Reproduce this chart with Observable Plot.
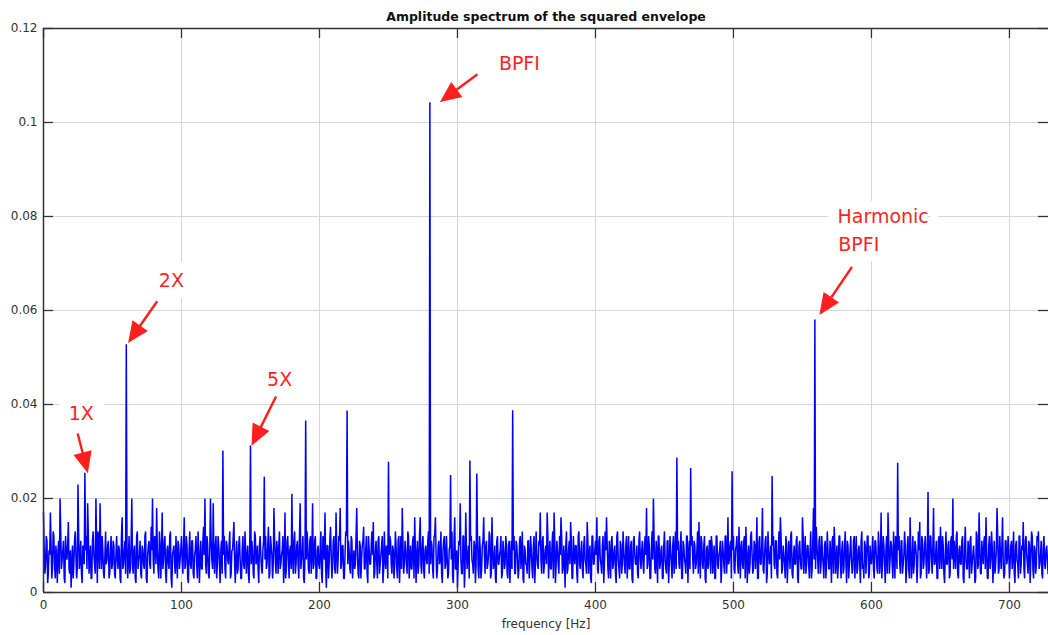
<!DOCTYPE html>
<html><head><meta charset="utf-8">
<script src="https://cdn.jsdelivr.net/npm/d3@7"></script>
<script src="https://cdn.jsdelivr.net/npm/@observablehq/plot@0.6"></script>
<style>html,body{margin:0;padding:0;background:#fff}svg{display:block}</style>
</head><body><div id="chart"></div>
<script>
// ---- text ----
const title = "Amplitude spectrum of the squared envelope";
const xLabel = "frequency [Hz]";

// ---- axes ----
const xTicks = [0, 100, 200, 300, 400, 500, 600, 700];
const yTicks = [0, 0.02, 0.04, 0.06, 0.08, 0.1, 0.12];
const yTickLabels = ["0", "0.02", "0.04", "0.06", "0.08", "0.1", "0.12"];
const xMax = 728.3;
const yMax = 0.12;

// ---- spectrum noise floor (values in units of 0.001) ----
const noiseUnit = 0.001;
// samples at whole Hz (0 ... 728)
const noise000 = [17,4,12,2,9,17,3,13,6,10, 2,11,20,5,9,3,12,7,15,4, 1,10,6,13,3,23,5,11,2,9, 7,12,19,4,10,3,13,6,20,2, 11,19,5,9,3,13,7,11,4,12, 6,10,3,12,5,9,2,16,6,11, 8,3,12,5,20,4,10,2,13,7, 11,3,9,5,13,2,10,6,14,20, 4,11,18,5,13,3,17,7,12,2, 10,5,13,1,9,6,12,3,10,7];
const noise100 = [12,4,16,6,10,2,13,5,11,3, 9,6,13,2,11,5,14,20,4,10, 3,20,7,19,4,12,6,10,2,11, 5,12,3,10,6,13,4,9,15,2, 11,5,12,3,9,6,13,4,10,2, 7,11,4,13,6,10,2,12,5,9, 3,12,6,14,4,10,3,18,7,11, 4,13,6,9,2,17,5,12,3,10, 21,4,13,6,11,3,19,7,12,2, 1,13,5,11,4,19,6,12,3,10];
const noise200 = [5,13,2,11,17,1,10,6,14,3, 11,5,17,4,12,18,6,10,3,13, 2,11,5,12,3,9,6,18,4,11, 3,10,14,5,12,2,9,6,13,15, 4,11,3,12,6,10,2,13,5,9, 4,12,6,10,3,13,5,11,2,12, 18,4,11,6,13,3,10,5,12,16, 2,11,6,16,4,12,3,10,6,13, 4,11,5,12,16,3,10,6,13,2, 11,5,12,3,9,6,13,2,16,5];
const noise300 = [1,11,19,4,12,1,17,5,10,3, 12,6,11,2,9,5,12,3,10,16, 4,11,6,13,3,16,5,10,2,12, 6,9,3,11,5,12,4,10,2,11, 6,12,4,10,3,11,5,13,2,9, 6,11,3,12,5,10,2,13,6,11, 17,4,12,6,10,17,3,11,5,13, 17,2,11,6,12,16,4,10,1,13, 5,11,15,3,12,6,10,2,13,5, 11,3,12,6,15,4,10,2,12,6];
const noise400 = [11,16,4,12,6,10,2,13,16,5, 11,3,12,6,10,2,13,5,11,4, 13,6,10,3,12,5,11,2,12,6, 10,3,13,5,11,4,12,18,6,10, 3,13,20,5,11,2,12,6,10,3, 13,5,11,2,12,6,10,4,13,1, 11,5,13,3,10,6,12,2,11,5, 12,4,10,6,13,15,3,11,5,12, 2,10,6,11,12,4,10,3,12,5, 9,2,11,6,12,4,16,7,11,5];
const noise500 = [12,4,10,6,14,3,11,5,12,14, 2,10,6,13,4,11,5,16,3,12, 6,18,4,11,2,13,6,10,1,12, 5,11,3,13,16,4,10,6,12,2, 11,5,13,3,10,6,12,2,11,5, 16,4,12,6,10,3,13,5,18,6, 14,7,11,4,12,6,10,3,13,5, 11,2,12,14,4,10,6,12,3,11, 5,13,2,10,6,12,4,11,3,12, 5,10,2,13,6,11,4,12,3,10];
const noise600 = [6,12,3,11,5,13,4,17,6,10, 2,12,17,4,11,6,13,3,10,5, 12,4,11,6,13,2,10,5,16,3, 12,6,10,2,13,15,4,11,6,12, 3,10,5,12,4,18,6,11,3,12, 14,5,10,2,13,6,11,4,12,1, 11,5,13,3,10,6,12,2,14,5, 11,3,12,6,10,2,13,5,17,4, 11,6,12,16,3,10,5,13,2,11, 6,18,4,12,5,16,3,11,6,12];
const noise700 = [3,10,5,13,2,11,6,12,4,10, 15,3,12,6,11,2,13,5,10,4, 12,13,6,11,3,12,5,10,4];
// samples at half Hz (0.5 ... 727.5)
const half000 = [9,6,11,4,8,10,5,12,3,7, 9,4,13,7,11,2,8,10,5,9, 6,3,11,8,5,12,7,4,10,6, 9,5,12,7,3,11,8,4,10,13, 5,9,12,4,8,6,10,3,9,5, 11,4,8,7,10,3,12,5,9,4, 10,7,4,11,6,9,3,12,5,8, 4,10,6,12,3,8,11,5,9,7, 12,6,9,3,10,8,5,11,4,9, 6,12,3,8,10,4,7,11,5,9];
const half100 = [7,10,5,12,3,9,6,11,4,8, 12,3,9,7,5,11,8,6,12,4, 9,11,5,8,10,3,12,6,9,4, 8,5,11,7,10,3,9,12,6,8, 4,10,7,3,12,5,9,8,4,11, 6,9,3,12,7,5,10,8,4,11, 7,5,10,3,12,8,6,11,4,9, 10,5,8,12,6,3,11,7,9,5, 8,11,4,10,6,12,5,9,3,8, 7,10,4,12,8,5,11,3,9,6];
const half200 = [9,4,12,7,5,10,3,11,8,6, 12,4,9,7,11,5,10,3,8,12, 6,9,4,11,7,5,12,8,3,10, 7,11,5,9,4,12,6,10,8,3, 9,6,11,4,8,12,5,7,10,3, 8,11,4,9,6,10,3,12,7,5, 10,6,9,4,12,7,5,11,3,9, 8,4,12,6,10,5,9,7,11,4, 6,10,3,12,8,5,11,7,4,9, 12,6,8,4,10,7,3,11,5,9];
const half300 = [6,10,7,4,12,5,9,8,3,11, 7,4,10,6,12,3,9,5,11,8, 10,5,8,12,4,9,7,3,11,6, 8,12,4,9,6,10,3,11,7,5, 9,4,11,7,5,12,8,3,10,6, 4,11,7,9,3,12,6,8,5,10, 7,11,4,9,6,12,8,5,10,3, 11,6,9,4,8,12,5,7,10,4, 9,6,11,3,8,10,4,12,6,9, 5,10,7,4,11,8,3,12,6,9];
const half400 = [8,5,11,7,4,12,6,9,10,3, 8,11,5,9,4,12,7,3,10,6, 9,4,12,7,5,10,3,11,8,6, 4,11,7,9,6,10,8,5,12,3, 9,7,11,4,8,12,5,9,3,10, 7,4,11,6,9,3,12,8,5,9, 6,10,3,11,7,4,12,8,5,10, 7,11,5,9,4,8,12,6,10,3, 9,5,11,4,10,7,3,12,6,8, 11,5,9,4,12,7,6,10,3,9];
const half500 = [5,9,12,4,8,10,6,11,3,9, 7,4,12,8,5,10,9,3,11,6, 10,5,8,12,4,9,7,3,10,6, 11,4,9,7,12,5,8,3,10,6, 9,12,4,8,6,11,3,10,7,5, 12,8,4,10,6,9,3,11,7,5, 10,4,12,6,8,3,11,7,9,5, 8,11,4,10,7,3,12,6,9,4, 10,6,11,3,9,7,5,12,8,4, 9,6,11,5,3,10,8,12,4,7];
const half600 = [9,5,11,8,4,10,7,3,12,6, 9,4,11,7,10,3,8,12,5,9, 6,11,4,8,10,5,12,3,9,7, 4,11,8,6,9,3,12,5,10,7, 9,4,12,7,10,6,8,3,11,5, 9,12,4,8,6,10,3,11,7,5, 8,12,4,9,6,11,3,10,7,5, 9,11,4,8,7,3,12,6,10,4, 8,11,5,9,3,12,7,10,6,4, 9,12,5,8,10,6,4,11,7,9];
const half700 = [6,11,8,4,10,7,3,12,6,9, 5,11,8,4,10,7,12,3,9,6, 11,5,8,4,10,6,9,7];

// ---- discrete peaks (Hz, amplitude) ----
const peakFreqs = [30, 60, 130, 150, 160, 190, 220, 250, 280, 295, 309, 314, 340, 459, 469, 499, 528, 559, 619, 641, 659];
const peakAmps  = [0.0255, 0.0528, 0.0302, 0.0313, 0.0246, 0.0366, 0.0387, 0.0278, 0.1043, 0.0250, 0.0281, 0.0253, 0.0388, 0.0287, 0.0265, 0.0258, 0.0248, 0.0581, 0.0276, 0.0214, 0.0200];

// ---- annotations ----
const annLabels = ["1X", "2X", "5X", "BPFI", "Harmonic", "BPFI"];
const annTextF  = [18.3, 83.6, 162, 330, 575.4, 576];
const annTextA  = [0.0381, 0.0663, 0.0453, 0.1124, 0.0800, 0.0740];
const arrowTipF = [31.6, 62.5, 151.7, 288.9, 563.5];
const arrowTipA = [0.0260, 0.0536, 0.0318, 0.1047, 0.0596];
const arrowAngle = [165.6, 214.9, 206.5, 233.4, 214.2];
const arrowLen   = [38, 48, 52, 44, 55];

// ---- layout ----
const W = 1048, H = 635, mL = 43, mR = 0, mT = 28, mB = 43;
const frameW = W - mL - mR, frameH = H - mT - mB;
const tickLen = 10;
const red = "#ff1f1f";
const axisColor = "#333333";
const font = "DejaVu Sans, Verdana, sans-serif";

// ---- build tables ----
const whole = [].concat(noise000, noise100, noise200, noise300, noise400, noise500, noise600, noise700);
const halves = [].concat(half000, half100, half200, half300, half400, half500, half600, half700);
const peakAt = new Map(peakFreqs.map((f, k) => [f, peakAmps[k]]));
const spectrum = [];
whole.forEach((v, i) => {
  spectrum.push({f: i, a: peakAt.has(i) ? peakAt.get(i) : v * noiseUnit});
  if (i < halves.length) spectrum.push({f: i + 0.5, a: halves[i] * noiseUnit});
});

const annotations = annLabels.map((t, i) => ({t, f: annTextF[i], a: annTextA[i]}));
const arrows = arrowTipF.map((f, i) => ({f, a: arrowTipA[i], angle: arrowAngle[i], len: arrowLen[i]}));

const filledArrow = {
  draw(ctx, l) {
    const hl = 17, hw = 7.5;
    ctx.moveTo(0, 0);
    ctx.lineTo(0, -l + hl - 2);
    ctx.moveTo(0, -l);
    ctx.lineTo(-hw, -l + hl);
    ctx.lineTo(hw, -l + hl);
    ctx.closePath();
  }
};

const chart = Plot.plot({
  width: W, height: H,
  marginLeft: mL, marginRight: mR, marginTop: mT, marginBottom: mB,
  style: {fontFamily: font, fontSize: "12px", color: axisColor, background: "white", overflow: "visible"},
  x: {domain: [0, xMax]},
  y: {domain: [0, yMax]},
  length: {type: "identity"},
  marks: [
    Plot.gridX(xTicks, {stroke: "#d6d6d6", strokeOpacity: 1, strokeWidth: 1}),
    Plot.gridY(yTicks, {stroke: "#d6d6d6", strokeOpacity: 1, strokeWidth: 1}),
    Plot.text(annotations, {x: "f", y: "a", text: "t", textAnchor: "start", lineAnchor: "middle",
      fontSize: 19, fill: "white", stroke: "white", strokeWidth: 22, strokeLinejoin: "round"}),
    Plot.line(spectrum, {x: "f", y: "a", stroke: "#0000ff", strokeWidth: 1.5, strokeLinejoin: "miter"}),
    Plot.ruleX([0], {stroke: axisColor, strokeWidth: 1.5}),
    Plot.ruleY([0, yMax], {stroke: axisColor, strokeWidth: 1.5}),
    Plot.tickX(xTicks, {x: d => d, insetTop: frameH - tickLen, stroke: axisColor, strokeWidth: 1.3}),
    Plot.tickX(xTicks, {x: d => d, insetBottom: frameH - tickLen, stroke: axisColor, strokeWidth: 1.3}),
    Plot.tickY(yTicks, {y: d => d, insetRight: frameW - tickLen, stroke: axisColor, strokeWidth: 1.3}),
    Plot.tickY(yTicks, {y: d => d, insetLeft: frameW - tickLen, stroke: axisColor, strokeWidth: 1.3}),
    Plot.axisX(xTicks, {tickSize: 0, tickPadding: 8, label: null, fontSize: 12, fill: axisColor}),
    Plot.axisY(yTicks, {tickSize: 0, tickPadding: 6, label: null, fontSize: 12, fill: axisColor,
      tickFormat: d => yTickLabels[yTicks.indexOf(d)]}),
    Plot.text(annotations, {x: "f", y: "a", text: "t", textAnchor: "start", lineAnchor: "middle",
      fontSize: 19, fill: red, letterSpacing: 0.4}),
    Plot.vector(arrows, {x: "f", y: "a", rotate: "angle", length: "len", anchor: "end",
      shape: filledArrow, stroke: red, fill: red, strokeWidth: 2.4, strokeLinejoin: "miter", strokeLinecap: "butt"}),
    Plot.text([title], {frameAnchor: "top", lineAnchor: "middle", dy: -12, fontSize: 12.5,
      fontWeight: "bold", fill: "#111"}),
    Plot.text([xLabel], {frameAnchor: "bottom", lineAnchor: "middle", dy: 32, fontSize: 12, fill: axisColor})
  ]
});
document.getElementById("chart").appendChild(chart);
</script>
</body></html>
